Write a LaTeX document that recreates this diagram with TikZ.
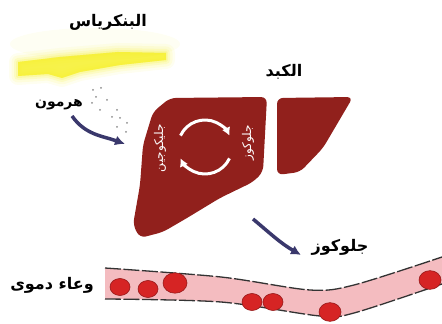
\documentclass[tikz,border=0pt]{standalone}
\usepackage{fontspec}
\newfontfamily\arabicfont[Script=Arabic]{DejaVu Sans}
\usetikzlibrary{arrows.meta}
\TeXXeTstate=1

\definecolor{liverred}{RGB}{145,32,28}
\definecolor{flowblue}{RGB}{58,56,108}
\definecolor{cellred}{RGB}{214,36,36}
\definecolor{vesselpink}{RGB}{244,188,192}
\definecolor{pancyellow}{RGB}{246,240,45}

\begin{document}
\begin{tikzpicture}
  [x=1pt,y=1pt,every node/.style={font=\arabicfont\bfseries\fontsize{16}{18}\selectfont,inner sep=1pt},
   flow/.style={flowblue,line width=3.5pt,-{Latex[length=10pt,width=10pt]}},
   cyc/.style={white,line width=3pt,-{Latex[length=8pt,width=9pt]}},
   inlabel/.style={white,rotate=90,font=\arabicfont\fontsize{12}{13}\selectfont},
   cell/.style={fill=cellred,draw=cellred!70!black,line width=.6pt},
   wall/.style={black!80,line width=1.3pt,dash pattern=on 16pt off 2.5pt}]
  \useasboundingbox (0,0) rectangle (442,324);

  % pancreas, soft yellow band
  \fill[pancyellow!6] (95,280) ellipse (85 and 16);
  \def\pancpath{(18,262) -- (60,267) -- (118,272) -- (166,271) -- (166,264) -- (120,259)
    -- (80,252) -- (62,246) -- (48,250) -- (18,248) -- cycle}
  \foreach \w/\o in {18/.07,13/.1,8/.15,4/.2}
    \filldraw[pancyellow,line width=\w pt,opacity=\o,line join=round] \pancpath;
  \fill[pancyellow,opacity=.75] \pancpath;

  \node (pancreas) at (108,302) {\beginR البنكرياس\endR};
  \node[font=\arabicfont\bfseries\fontsize{14}{16}\selectfont] (hormone) at (59,219) {\beginR هرمون\endR};

  % hormone dots
  \foreach \px/\py in {93/90,101/88,96/97,92/103,107/100,100/110,112/117,117/110,
                       120/118,127/123,117/127,126/132}
    \fill[black!45] (\px,324-\py) circle (1pt);

  % liver, two lobes
  \fill[liverred,rounded corners=6pt] (170,226) -- (267,227) -- (263,152) -- (253,142)
    -- (220,126) -- (187,106) -- (163,92) -- (140,86) -- (133,99) -- (140,139)
    -- (143,179) -- (153,212) -- cycle;
  \fill[liverred,rounded corners=6pt] (277,226) -- (353,227) -- (323,176) -- (300,152)
    -- (277,149) -- cycle;
  \node (liver) at (284,252) {\beginR الكبد\endR};

  \coordinate (c) at (205,177);
  \draw[cyc] (c) ++(155:27) arc[start angle=155,end angle=25,radius=27];
  \draw[cyc] (c) ++(-25:27) arc[start angle=-25,end angle=-155,radius=27];
  \node[inlabel] (glycogen) at (160,176) {\beginR جليكوجين\endR};
  \node[inlabel] (sugar) at (248,181) {\beginR جلوكوز\endR};

  % arrows
  \coordinate (h0) at (72,208);
  \coordinate (h1) at (125,180);
  \draw[flow] (h0) to[out=-55,in=160] (h1);
  \coordinate (g0) at (253,105);
  \coordinate (g1) at (301,69);
  \draw[flow] (g0) to[out=-40,in=150] (g1);
  \node (glucose) at (340,77) {\beginR جلوكوز\endR};

  % blood vessel
  \fill[vesselpink] plot[smooth] coordinates {(105,56) (221,47) (310,34) (354,39) (442,67)}
    -- plot[smooth] coordinates {(442,40) (354,11) (320,8) (221,22) (105,25)} -- cycle;
  \draw[wall] plot[smooth] coordinates {(105,56) (221,47) (310,34) (354,39) (442,67)};
  \draw[wall] plot[smooth] coordinates {(105,25) (221,22) (320,8) (354,11) (442,40)};
  \foreach \px/\py/\r in {120/37/10,148/35/10,175/41/12,252/22/10,273/22/10,330/12/11,430/44/11}
    \filldraw[cell] (\px,\py) ellipse ({\r} and {\r*.85});
  \node (vessel) at (52,39) {\beginR وعاء دموى\endR};
\end{tikzpicture}
\end{document}
